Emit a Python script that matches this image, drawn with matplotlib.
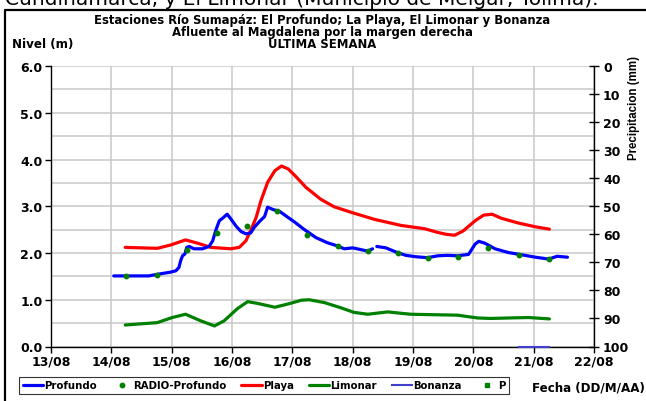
import numpy as np
import matplotlib.pyplot as plt
from matplotlib.lines import Line2D

plt.rcParams['font.family'] = ['DejaVu Sans']
plt.rcParams['font.weight'] = 'bold'
plt.rcParams['font.size'] = 8

# Datos (dia de agosto, nivel en m)
dias_profundo = [14.04, 14.62, 14.79, 14.98, 15.07, 15.12, 15.15, 15.18, 15.22, 15.25,
                 15.29, 15.37, 15.51, 15.62, 15.68, 15.73, 15.79, 15.84, 15.92, 15.98,
                 16.07, 16.15, 16.23, 16.31, 16.37, 16.46, 16.54, 16.59, 16.68, 16.79,
                 16.93, 17.04, 17.19, 17.39, 17.58, 17.75, 17.86, 18.00, 18.11, 18.25,
                 18.33, 18.36, 18.40, 18.55, 18.74, 18.88, 19.05, 19.24, 19.41, 19.57,
                 19.74, 19.92, 20.03, 20.09, 20.19, 20.36, 20.58, 20.81, 21.03, 21.25,
                 21.39, 21.56]
nivel_profundo = [1.51, 1.51, 1.55, 1.59, 1.62, 1.69, 1.84, 1.94, 1.98, 2.12,
                  2.14, 2.09, 2.09, 2.14, 2.26, 2.48, 2.69, 2.74, 2.83, 2.73,
                  2.57, 2.46, 2.41, 2.43, 2.55, 2.68, 2.78, 2.98, 2.93, 2.89,
                  2.76, 2.66, 2.51, 2.33, 2.22, 2.15, 2.09, 2.11, 2.08, 2.04,
                  2.09, np.nan, 2.14, 2.11, 2.01, 1.95, 1.92, 1.90, 1.94, 1.95,
                  1.94, 1.97, 2.19, 2.25, 2.21, 2.09, 2.01, 1.96, 1.91, 1.87,
                  1.93, 1.91]

dias_radio = [14.25, 14.75, 15.25, 15.75, 16.25, 16.75, 17.25, 17.75,
              18.25, 18.75, 19.25, 19.75, 20.25, 20.75, 21.25]
nivel_radio = [1.50, 1.52, 2.06, 2.42, 2.58, 2.89, 2.38, 2.15,
               2.05, 2.01, 1.89, 1.92, 2.11, 1.96, 1.87]

dias_playa = [14.23, 14.76, 14.98, 15.23, 15.43, 15.65, 15.98, 16.12, 16.23, 16.32,
              16.40, 16.48, 16.59, 16.71, 16.82, 16.93, 17.04, 17.15, 17.22, 17.47,
              17.69, 18.00, 18.36, 18.80, 19.19, 19.41, 19.55, 19.69, 19.83, 20.03,
              20.17, 20.31, 20.47, 20.75, 21.03, 21.26]
nivel_playa = [2.12, 2.10, 2.17, 2.28, 2.21, 2.12, 2.09, 2.12, 2.26, 2.51,
               2.76, 3.12, 3.51, 3.76, 3.86, 3.80, 3.66, 3.51, 3.41, 3.15,
               2.99, 2.86, 2.72, 2.59, 2.52, 2.44, 2.40, 2.38, 2.47, 2.69,
               2.81, 2.83, 2.74, 2.64, 2.56, 2.51]

dias_limonar = [14.23, 14.76, 15.01, 15.23, 15.48, 15.71, 15.87, 16.09, 16.26, 16.43,
                16.71, 16.93, 17.15, 17.28, 17.53, 17.80, 18.02, 18.25, 18.58, 18.96,
                19.35, 19.74, 20.07, 20.29, 20.58, 20.92, 21.26]
nivel_limonar = [0.46, 0.51, 0.62, 0.69, 0.55, 0.44, 0.55, 0.81, 0.96, 0.92,
                 0.84, 0.91, 0.99, 1.00, 0.94, 0.83, 0.73, 0.69, 0.74, 0.69,
                 0.68, 0.67, 0.61, 0.60, 0.61, 0.62, 0.59]

dias_bonanza = [20.75, 21.26]
nivel_bonanza = [0.0, 0.0]

dias_ticks = [13, 14, 15, 16, 17, 18, 19, 20, 21, 22]
fechas = ['13/08', '14/08', '15/08', '16/08', '17/08', '18/08', '19/08', '20/08', '21/08', '22/08']

W, H = 646, 402
fig = plt.figure(figsize=(W / 100, H / 100), dpi=100)
ax = fig.add_axes([51 / W, 1 - 347.5 / H, 543 / W, 280.5 / H])

gris = '#c8c8c8'
ax.set_xlim(13, 22)
ax.set_ylim(0, 6)
ax.set_xticks(dias_ticks)
ax.set_xticklabels(fechas)
ax.set_yticks(np.arange(0, 6.01, 1.0))
ax.set_yticklabels(['%.1f' % v for v in np.arange(0, 6.01, 1.0)])
ax.set_yticks(np.arange(0.5, 6, 1.0), minor=True)
ax.tick_params(axis='y', which='minor', length=0)
ax.tick_params(axis='both', which='major', length=4, width=1, color='black', pad=2, labelsize=9)
ax.grid(True, which='both', color=gris, lw=1.1)
ax.set_axisbelow(True)
for s in ['top', 'right']:
    ax.spines[s].set_visible(False)
for s in ['left', 'bottom']:
    ax.spines[s].set_linewidth(1)

ax.plot(dias_profundo, nivel_profundo, color='#0000ff', lw=2.3, label='Profundo',
        solid_joinstyle='round', solid_capstyle='round', zorder=4)
ax.plot(dias_radio, nivel_radio, ls='none', marker='o', ms=3.2, color='#008000',
        label='RADIO-Profundo', zorder=5)
ax.plot(dias_playa, nivel_playa, color='#ff0000', lw=2.3, label='Playa',
        solid_joinstyle='round', solid_capstyle='round', zorder=3)
ax.plot(dias_limonar, nivel_limonar, color='#008000', lw=2.3, label='Limonar',
        solid_joinstyle='round', solid_capstyle='round', zorder=3)
ax.plot(dias_bonanza, nivel_bonanza, color='#4040cc', lw=1.5, label='Bonanza',
        clip_on=False, zorder=6)
ax.plot([], [], ls='none', marker='s', ms=2.2, color='#008000', label='P')

ax2 = ax.twinx()
ax2.set_ylim(100, 0)
ax2.set_yticks(np.arange(0, 101, 10))
ax2.tick_params(axis='y', direction='inout', length=7, width=1, pad=3, labelsize=9)
ax2.spines['top'].set_visible(False)
ax2.spines['left'].set_visible(False)
ax2.spines['bottom'].set_visible(False)
ax2.spines['right'].set_linewidth(1)

leg = ax.legend(loc='upper left', bbox_to_anchor=(19 / W, 1 - 377.5 / H), bbox_transform=fig.transFigure,
                ncol=6, frameon=True, fancybox=False, edgecolor='black', handlelength=2.0,
                handletextpad=0.1, columnspacing=1.5, borderpad=0.35, borderaxespad=0,
                prop={'weight': 'bold', 'size': 7.3})
leg.get_frame().set_linewidth(0.8)

# Textos
fig.text(322 / W, 1 - 20.5 / H, 'Estaciones Río Sumapáz: El Profundo; La Playa, El Limonar y Bonanza',
         ha='center', va='center', fontsize=8.4)
fig.text(322 / W, 1 - 32.5 / H, 'Afluente al Magdalena por la margen derecha', ha='center', va='center',
         fontsize=8.4)
fig.text(322 / W, 1 - 44.5 / H, 'ULTIMA SEMANA', ha='center', va='center', fontsize=8.4)
fig.text(12 / W, 1 - 44.5 / H, 'Nivel (m)', ha='left', va='center', fontsize=8.6)
fig.text(634 / W, 1 - 56 / H, 'Precipitacion (mm)', ha='center', va='top', rotation=90,
         fontsize=8.3, family=['Liberation Sans', 'DejaVu Sans'])
fig.text(645 / W, 1 - 388 / H, 'Fecha (DD/M/AA)', ha='right', va='center', fontsize=8.6)
fig.text(5 / W, 1 - 5 / H, 'Cundinamarca, y El Limonar (Municipio de Melgar, Tolima).',
         ha='left', va='baseline', fontsize=14.5, fontweight='normal')

# Marco exterior
fig.add_artist(Line2D([5 / W, 5 / W, 1], [0, 1 - 11 / H, 1 - 11 / H],
                      transform=fig.transFigure, color='black', lw=1.6))

fig.savefig('out.png', dpi=100)
